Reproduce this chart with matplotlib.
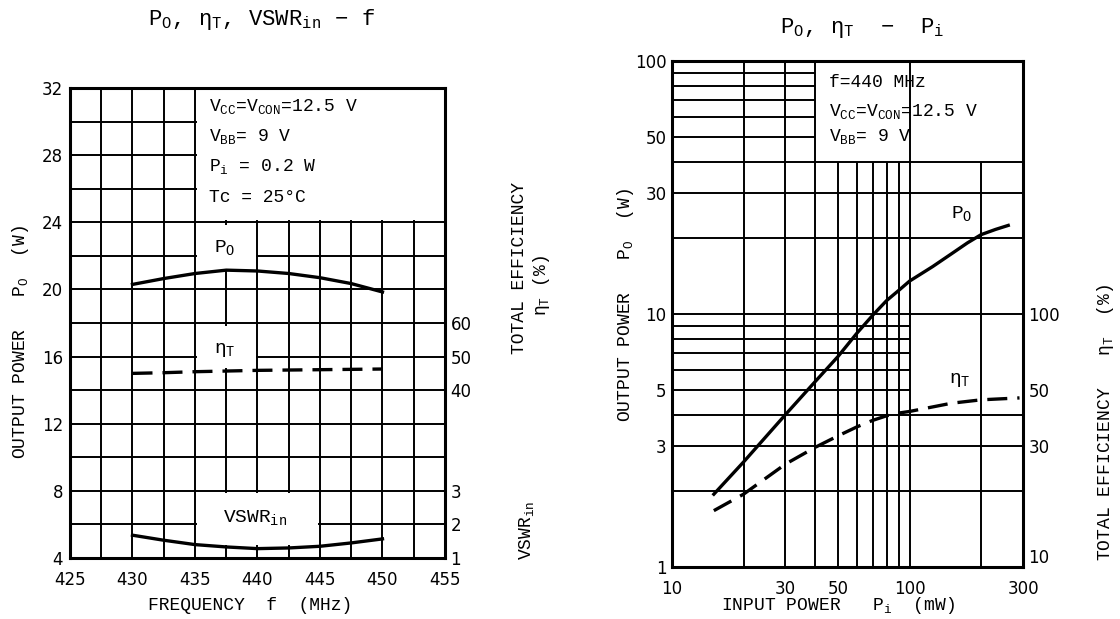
import numpy as np
import matplotlib.pyplot as plt
from matplotlib.patches import Rectangle
from matplotlib.ticker import NullLocator

plt.rcParams['font.family'] = ['Liberation Mono', 'DejaVu Sans']
plt.rcParams['mathtext.fontset'] = 'custom'
plt.rcParams['mathtext.rm'] = 'Liberation Mono'
plt.rcParams['mathtext.it'] = 'Liberation Mono'
plt.rcParams['mathtext.bf'] = 'Liberation Mono:bold'

# --- left chart: Po, eta, VSWR vs frequency ---
freq = [430, 432.5, 435, 437.5, 440, 442.5, 445, 447.5, 450]
po_f = [20.3, 20.65, 20.95, 21.15, 21.1, 20.95, 20.7, 20.35, 19.85]
eta_f = [45.0, 45.2, 45.5, 45.7, 45.9, 46.0, 46.1, 46.2, 46.3]
vswr_f = [1.68, 1.53, 1.40, 1.33, 1.28, 1.30, 1.35, 1.45, 1.57]

# --- right chart: Po, eta vs input power ---
pi_po = [15, 20, 30, 40, 50, 60, 70, 80, 90, 100, 125, 150, 175, 200, 230, 260]
po_p = [1.94, 2.6, 4.0, 5.4, 6.8, 8.4, 9.9, 11.3, 12.4, 13.5, 15.4, 17.3, 19.1, 20.6, 21.6, 22.4]
pi_eta = [15, 20, 30, 40, 50, 60, 70, 80, 90, 100, 150, 200, 290]
eta_p = [16.7, 19.4, 25.5, 29.7, 33.0, 35.8, 38.0, 39.6, 40.6, 41.2, 44.4, 45.8, 46.6]

GRID_LW = 1.4
CURVE_LW = 2.4
tickfont = 'DejaVu Sans'
LBL = 13

fig = plt.figure(figsize=(11.2, 6.19), dpi=100)

# ================= left =================
ax1 = fig.add_axes([0.0625, 0.0985, 0.3348, 0.7593])
ax1.set_xlim(425, 455)
ax1.set_ylim(4, 32)
for x in np.arange(427.5, 455, 2.5):
    ax1.axvline(x, color='k', lw=GRID_LW, zorder=1)
for y in np.arange(6, 32, 2):
    ax1.axhline(y, color='k', lw=GRID_LW, zorder=1)

# blank areas behind the texts
for (x0, y0, x1, y1) in [(435.15, 24.15, 455, 32),
                         (435.15, 21.2, 439.85, 23.85),
                         (435.15, 15.3, 439.85, 17.85),
                         (435.15, 4.8, 444.85, 7.85)]:
    ax1.add_patch(Rectangle((x0, y0), x1 - x0, y1 - y0, facecolor='white',
                            edgecolor='none', zorder=1.5))

ax1.plot(freq, po_f, color='k', lw=CURVE_LW, zorder=3)
ax1.set_xticks(range(425, 456, 5))
ax1.set_yticks(range(4, 33, 4))
ax1.tick_params(length=0, labelsize=12, pad=5, labelfontfamily=tickfont)
ax1.tick_params(axis='x', pad=9)
for s in ax1.spines.values():
    s.set_linewidth(2.2)

tw_eta = ax1.twinx()
tw_eta.set_ylim(-10, 130)
tw_eta.set_yticks([40, 50, 60])
tw_eta.plot(freq, eta_f, color='k', lw=CURVE_LW, dashes=(6, 3))
tw_eta.tick_params(length=0, labelsize=12, pad=4, labelfontfamily=tickfont)
for s in tw_eta.spines.values():
    s.set_visible(False)

tw_vswr = ax1.twinx()
tw_vswr.set_ylim(1, 15)
tw_vswr.set_yticks([1, 2, 3])
tw_vswr.plot(freq, vswr_f, color='k', lw=CURVE_LW)
tw_vswr.tick_params(length=0, labelsize=12, pad=4, labelfontfamily=tickfont)
for s in tw_vswr.spines.values():
    s.set_visible(False)

ax1.text(437.4, 22.5, r'$\mathrm{P_O}$', fontsize=14, ha='center', va='center', zorder=4)
ax1.text(437.4, 16.4, r'$\eta_\mathrm{T}$', fontsize=14, ha='center', va='center', zorder=4)
ax1.text(439.8, 6.4, r'$\mathrm{VSWR_{in}}$', fontsize=14, ha='center', va='center', zorder=4)

notes1 = [r'$\mathrm{V_{CC}}$=$\mathrm{V_{CON}}$=12.5 V', r'$\mathrm{V_{BB}}$= 9 V',
          r'$\mathrm{P_i}$ = 0.2 W', 'Tc = 25°C']
for i, t in enumerate(notes1):
    ax1.text(436.1, 30.9 - 1.8 * i, t, fontsize=13, ha='left', va='center', zorder=4)

fig.text(262 / 1120, 1 - 20 / 619,
         r'$\mathrm{P_O}$, $\eta_\mathrm{T}$, $\mathrm{VSWR_{in}}$ $-$ f',
         fontsize=16, ha='center', va='center')
fig.text(0.018, 1 - 342 / 619, r'OUTPUT POWER   $\mathrm{P_O}$  (W)', rotation=90,
         fontsize=LBL, ha='center', va='center')
fig.text(250 / 1120, 1 - 606 / 619, 'FREQUENCY  f  (MHz)', fontsize=LBL,
         ha='center', va='center')
fig.text(520 / 1120, 1 - 268 / 619, 'TOTAL EFFICIENCY', rotation=90,
         fontsize=LBL, ha='center', va='center')
fig.text(542 / 1120, 1 - 285 / 619, r'$\eta_\mathrm{T}$ (%)', rotation=90,
         fontsize=LBL, ha='center', va='center')
fig.text(527 / 1120, 1 - 530 / 619, r'$\mathrm{VSWR_{in}}$', rotation=90,
         fontsize=LBL, ha='center', va='center')

# ================= right =================
ax2 = fig.add_axes([0.6, 0.084, 0.3134, 0.8174])
ax2.set_xscale('log')
ax2.set_yscale('log')
ax2.set_xlim(10, 300)
ax2.set_ylim(1, 100)

# vertical grid
ax2.vlines([20, 30, 40, 100], 1, 100, color='k', lw=GRID_LW, zorder=1)
ax2.vlines([50, 60, 70, 80, 90, 200], 1, 40, color='k', lw=GRID_LW, zorder=1)
# horizontal grid
ax2.hlines([2, 3, 4, 10, 20, 30, 40], 10, 300, color='k', lw=GRID_LW, zorder=1)
ax2.hlines([5, 6, 7, 8, 9], 10, 100, color='k', lw=GRID_LW, zorder=1)
ax2.hlines([50, 60, 70, 80, 90], 10, 40, color='k', lw=GRID_LW, zorder=1)

ax2.plot(pi_po, po_p, color='k', lw=CURVE_LW, zorder=3)

ax2.xaxis.set_minor_locator(NullLocator())
ax2.yaxis.set_minor_locator(NullLocator())
ax2.set_xticks([10, 30, 50, 100, 300], ['10', '30', '50', '100', '300'])
ax2.set_yticks([1, 3, 5, 10, 30, 50, 100], ['1', '3', '5', '10', '30', '50', '100'])
ax2.tick_params(length=0, labelsize=12, pad=4, labelfontfamily=tickfont)
ax2.tick_params(axis='x', pad=9)
for s in ax2.spines.values():
    s.set_linewidth(2.2)

tw2 = ax2.twinx()
tw2.set_yscale('log')
tw2.set_ylim(10, 1000)
tw2.yaxis.set_minor_locator(NullLocator())
tw2.set_yticks([10, 30, 50, 100], ['10', '30', '50', '100'])
tw2.plot(pi_eta, eta_p, color='k', lw=CURVE_LW, dashes=(6, 3))
tw2.tick_params(length=0, labelsize=12, pad=4, labelfontfamily=tickfont)
for s in tw2.spines.values():
    s.set_visible(False)
# keep the bottom right label just above the corner, as in the original
tw2.get_yticklabels()[0].set_verticalalignment('bottom')

ax2.text(165, 25, r'$\mathrm{P_O}$', fontsize=14, ha='center', va='center', zorder=4)
tw2.text(163, 55, r'$\eta_\mathrm{T}$', fontsize=14, ha='center', va='center', zorder=4)

notes2 = [r'f=440 MHz', r'$\mathrm{V_{CC}}$=$\mathrm{V_{CON}}$=12.5 V',
          r'$\mathrm{V_{BB}}$= 9 V']
for t, yv in zip(notes2, [82, 63.4, 50.1]):
    ax2.text(45.6, yv, t, fontsize=13, ha='left', va='center', zorder=4)

fig.text(862 / 1120, 1 - 28 / 619, r'$\mathrm{P_O}$, $\eta_\mathrm{T}$  $-$  $\mathrm{P_i}$',
         fontsize=16, ha='center', va='center')
fig.text(625 / 1120, 1 - 305 / 619, r'OUTPUT POWER   $\mathrm{P_O}$  (W)', rotation=90,
         fontsize=LBL, ha='center', va='center')
fig.text(838 / 1120, 1 - 606 / 619, r'INPUT POWER   $\mathrm{P_i}$  (mW)', fontsize=LBL,
         ha='center', va='center')
fig.text(1105 / 1120, 1 - 422 / 619, r'TOTAL EFFICIENCY   $\eta_\mathrm{T}$  (%)',
         rotation=90, fontsize=LBL, ha='center', va='center')

fig.savefig('out.png', dpi=100, facecolor='white')
